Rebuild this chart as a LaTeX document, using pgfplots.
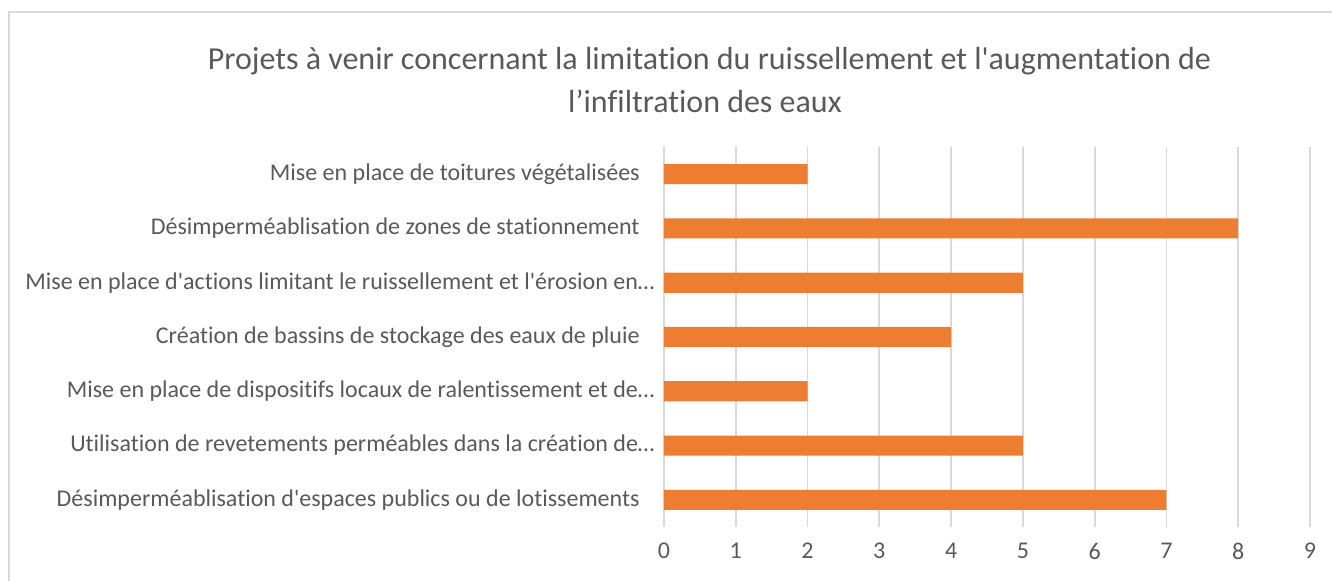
\documentclass[border=0pt]{standalone}
\usepackage{pgfplots}
\pgfplotsset{compat=1.18}
\usepackage{fontspec}
\setmainfont{Carlito}[Ligatures={TeX,NoCommon}]
\definecolor{barorange}{HTML}{ED7D31}
\definecolor{gridgray}{HTML}{D9D9D9}
\definecolor{txtgray}{HTML}{595959}
\newcommand{\ap}{\textquotesingle}
% truncated labels run a little closer to the axis
\newcommand{\trunc}{…\hspace*{-7.5pt}}

\begin{document}
\begin{tikzpicture}
\begin{axis}[
    scale only axis,
    width=323pt, height=190pt,
    xbar, bar width=0.37,
    xmin=0, xmax=9,
    ymin=-0.5, ymax=6.5,
    axis line style={draw=none},
    xmajorgrids,
    grid style={gridgray, line width=0.9pt},
    xtick={0,...,9},
    ytick={0,...,6},
    yticklabels={
        Désimperméablisation d\ap espaces publics ou de lotissements,
        Utilisation de revetements perméables dans la création de\trunc,
        Mise en place de dispositifs locaux de ralentissement et de\trunc,
        Création de bassins de stockage des eaux de pluie,
        Mise en place d\ap actions limitant le ruissellement et l\ap érosion en\trunc,
        Désimperméablisation de zones de stationnement,
        Mise en place de toitures végétalisées},
    major tick length=0pt,
    tick style={draw=none},
    /pgf/number format/assume math mode=true,
    yticklabel style={anchor=east, inner sep=0pt, xshift=-12pt,
        font=\fontsize{12}{14}\selectfont, text=txtgray},
    xticklabel style={anchor=center, inner sep=0pt, yshift=-12pt,
        font=\fontsize{12}{14}\selectfont, text=txtgray},
]
\addplot[fill=barorange, draw=none] coordinates {
    (7,0) (5,1) (2,2) (4,3) (5,4) (8,5) (2,6)
};
\end{axis}
\node[anchor=base, text=txtgray, font=\fontsize{16}{19}\selectfont, inner sep=0pt]
    at ([xshift=22.75pt, yshift=38.5pt]current axis.north west)
    {Projets à venir concernant la limitation du ruissellement et l\ap augmentation de};
\node[anchor=base, text=txtgray, font=\fontsize{16}{19}\selectfont, inner sep=0pt]
    at ([xshift=20.5pt, yshift=17pt]current axis.north west)
    {l’infiltration des eaux};
\pgfresetboundingbox
\path[use as bounding box] ([xshift=-332pt, yshift=-27pt]current axis.south west)
    rectangle ([xshift=11pt, yshift=73.5pt]current axis.north east);
\draw[gridgray, line width=0.75pt]
    ([xshift=-327.5pt, yshift=-40pt]current axis.south west)
    rectangle ([xshift=30pt, yshift=67.5pt]current axis.north east);
\end{tikzpicture}
\end{document}
